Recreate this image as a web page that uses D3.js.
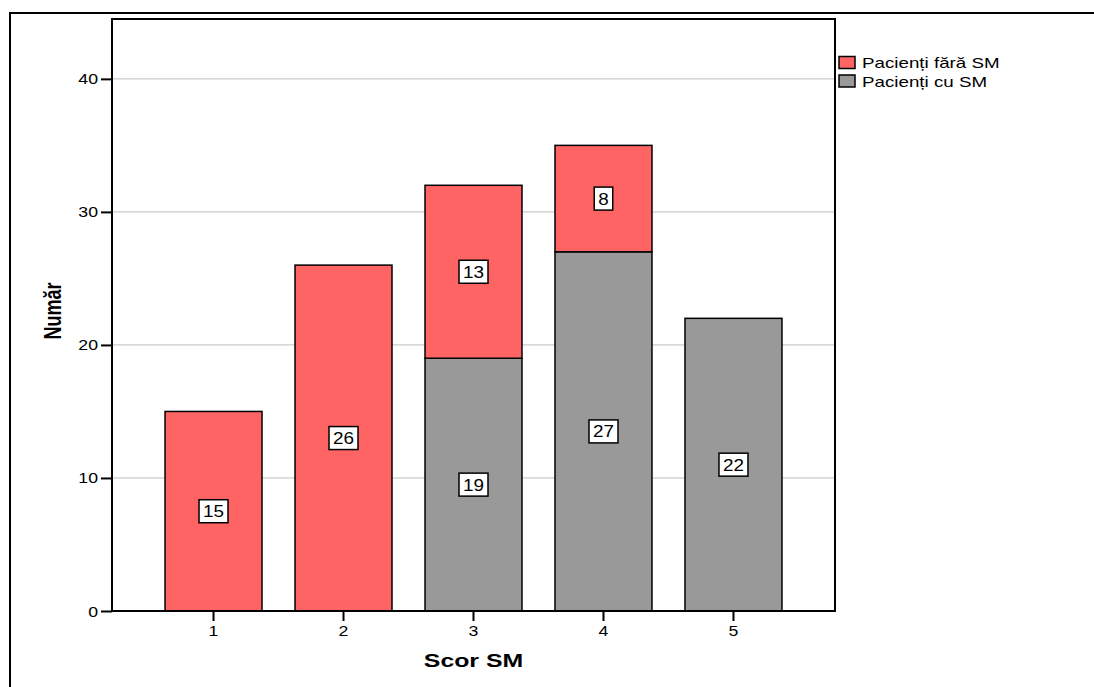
<!DOCTYPE html>
<html><head><meta charset="utf-8">
<script src="https://cdn.jsdelivr.net/npm/d3@7"></script>
<style>body{margin:0;background:#fff}svg{display:block;font-family:"Liberation Sans",Arial,sans-serif}</style>
</head><body>
<svg id="c" width="1094" height="687"></svg>
<script>
const categories = ["1","2","3","4","5"];
const seriesNames = ["Pacienți cu SM","Pacienți fără SM"];
const cuSM = [0,0,19,27,22];
const faraSM = [15,26,13,8,0];
const yTicks = [0,10,20,30,40];
const legendItems = ["Pacienți fără SM","Pacienți cu SM"];
const colors = {"Pacienți fără SM":"#ff6464","Pacienți cu SM":"#999999"};

const svg = d3.select("#c");
const L=112,R=835,T=19,B=611;
// place a horizontally stretched text
function stext(parent,x,y,txt,size,sx,anchor,bold){
  return parent.append("text").attr("transform",`translate(${x},${y}) scale(${sx},1)`)
    .attr("text-anchor",anchor).attr("font-size",size).attr("font-weight",bold?"bold":"normal")
    .attr("fill","#000").text(txt);
}
// outer frame
svg.append("rect").attr("x",10).attr("y",13).attr("width",1200).attr("height",800)
  .attr("fill","none").attr("stroke","#000").attr("stroke-width",2);

const x = d3.scaleBand().domain(categories).range([L,R]).paddingInner(0.254).paddingOuter(0.408);
const y = d3.scaleLinear().domain([0,44.5]).range([B,T]);

// gridlines
svg.append("g").selectAll("line").data(yTicks.filter(d=>d>0)).join("line")
  .attr("x1",L).attr("x2",R).attr("y1",d=>y(d)).attr("y2",d=>y(d))
  .attr("stroke","#bdbdbd").attr("stroke-width",1);

const rows = categories.map((c,i)=>({cat:c,"Pacienți cu SM":cuSM[i],"Pacienți fără SM":faraSM[i]}));
const stack = d3.stack().keys(seriesNames)(rows);

const g = svg.append("g");
stack.forEach(layer=>{
  g.selectAll(null).data(layer.filter(d=>d[1]-d[0]>0)).join("rect")
    .attr("x",d=>x(d.data.cat)).attr("width",x.bandwidth())
    .attr("y",d=>y(d[1])).attr("height",d=>y(d[0])-y(d[1]))
    .attr("fill",colors[layer.key]).attr("stroke","#000").attr("stroke-width",1.5);
});
// labels
stack.forEach(layer=>{
  layer.filter(d=>d[1]-d[0]>0).forEach(d=>{
    const v = d[1]-d[0];
    const cx = x(d.data.cat)+x.bandwidth()/2, cy = y((d[0]+d[1])/2);
    const sx = 1.18;
    const t = stext(g,cx,cy+6,v,16,sx,"middle",false);
    const w = t.node().getComputedTextLength()*sx+8;
    g.insert("rect",()=>t.node()).attr("x",cx-w/2).attr("y",cy-11.5).attr("width",w).attr("height",23)
      .attr("fill","#fff").attr("stroke","#000").attr("stroke-width",1.5);
  });
});

// plot border
svg.append("rect").attr("x",L).attr("y",T).attr("width",R-L).attr("height",B-T)
  .attr("fill","none").attr("stroke","#000").attr("stroke-width",2);

// y axis
const ya = svg.append("g").attr("transform",`translate(${L},0)`)
  .call(d3.axisLeft(y).tickValues(yTicks).tickSize(11).tickFormat(""));
ya.select(".domain").remove();
ya.selectAll("line").attr("stroke","#000").attr("stroke-width",2);
yTicks.forEach(t=>stext(svg,L-14,y(t)+5.5,t,15,1.18,"end",false));

// x axis
const xa = svg.append("g").attr("transform",`translate(0,${B})`)
  .call(d3.axisBottom(x).tickSize(10).tickFormat(""));
xa.select(".domain").remove();
xa.selectAll("line").attr("stroke","#000").attr("stroke-width",2);
categories.forEach(c=>stext(svg,x(c)+x.bandwidth()/2,636,c,15,1.18,"middle",false));

// titles
stext(svg,(L+R)/2,667,"Scor SM",18,1.38,"middle",true);
svg.append("text").attr("transform","translate(61,311) rotate(-90) scale(1,1.3)").attr("text-anchor","middle")
  .attr("font-size",18).attr("font-weight","bold").text("Număr");

// legend
const lg = svg.append("g");
legendItems.forEach((k,i)=>{
  lg.append("rect").attr("x",839).attr("y",56.5+i*18.5).attr("width",16).attr("height",12)
    .attr("fill",colors[k]).attr("stroke","#000").attr("stroke-width",1.5);
  stext(lg,862,68+i*18.5,k,14,1.34,"start",false);
});
</script>
</body></html>
